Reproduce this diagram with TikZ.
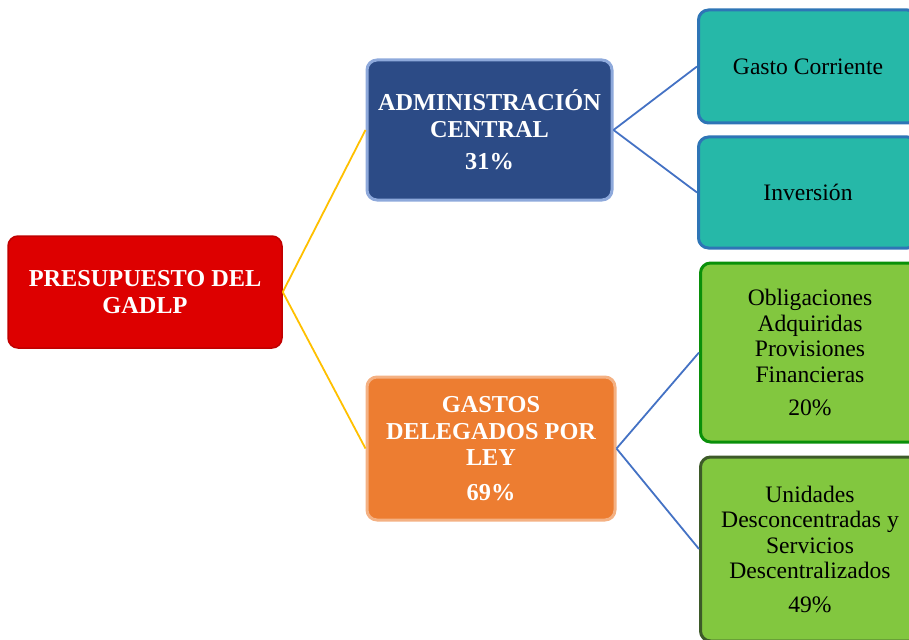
\documentclass[tikz,border=0pt]{standalone}
\usepackage{fontspec}
\setmainfont{Liberation Serif}
\usetikzlibrary{positioning}
\definecolor{rootfill}{HTML}{DD0000}
\definecolor{rootline}{HTML}{C00000}
\definecolor{adminfill}{HTML}{2C4B86}
\definecolor{adminline}{HTML}{8EA9DB}
\definecolor{leyfill}{HTML}{ED7D31}
\definecolor{leyline}{HTML}{F4B183}
\definecolor{tealfill}{HTML}{26B8A8}
\definecolor{tealline}{HTML}{2E75B6}
\definecolor{greenfill}{HTML}{82C73F}
\definecolor{greenline}{HTML}{0A900A}
\definecolor{oliveline}{HTML}{3D5A29}
\definecolor{yellowedge}{HTML}{FFC000}
\definecolor{blueedge}{HTML}{4472C4}

\begin{document}
\begin{tikzpicture}
              [x=1pt, y=-1pt,
               box/.style={rectangle, rounded corners=10pt, line width=3pt, align=center,
                           inner sep=4pt, font=\fontsize{23.6}{25.5}\selectfont},
               head/.style={box, text=white, font=\bfseries\fontsize{24.3}{26.5}\selectfont},
               leaf/.style={box, text=black, minimum width=219pt},
               edge1/.style={yellowedge, line width=1.8pt},
               edge2/.style={blueedge, line width=1.8pt}]
              \useasboundingbox (0,0) rectangle (909,639);
              \clip (0,0) rectangle (909,639);

              % nodes %
              \node[head, fill=rootfill, draw=rootline, line width=1.5pt,
                    minimum width=274pt, minimum height=112pt] (presupuesto) at (145,292)
                    {PRESUPUESTO DEL\\GADLP};
              \node[head, fill=adminfill, draw=adminline,
                    minimum width=245pt, minimum height=140pt] (admin) at (489.5,130)
                    {ADMINISTRACIÓN\\CENTRAL\\[6pt]31\%};
              \node[head, fill=leyfill, draw=leyline,
                    minimum width=248pt, minimum height=143pt] (ley) at (491,448.5)
                    {GASTOS\\DELEGADOS POR\\LEY\\[8pt]69\%};
              \node[leaf, fill=tealfill, draw=tealline, minimum height=113pt] (corriente) at (808,66.5)
                    {Gasto Corriente};
              \node[leaf, fill=tealfill, draw=tealline, minimum height=111pt] (inversion) at (808,192.5)
                    {Inversión};
              \node[leaf, fill=greenfill, draw=greenline, minimum height=179pt] (obligaciones) at (810,352.5)
                    {Obligaciones\\Adquiridas\\Provisiones\\Financieras\\[8pt]20\%};
              \node[leaf, fill=greenfill, draw=oliveline, minimum height=184pt] (unidades) at (810,549)
                    {Unidades\\Desconcentradas y\\Servicios\\Descentralizados\\[8pt]49\%};

              % edges %
              \draw[edge1] (presupuesto.east) -- (admin.west);
              \draw[edge1] (presupuesto.east) -- (ley.west);
              \draw[edge2] (admin.east) -- (corriente.west);
              \draw[edge2] (admin.east) -- (inversion.west);
              \draw[edge2] (ley.east) -- (obligaciones.west);
              \draw[edge2] (ley.east) -- (unidades.west);
            \end{tikzpicture}
\end{document}
